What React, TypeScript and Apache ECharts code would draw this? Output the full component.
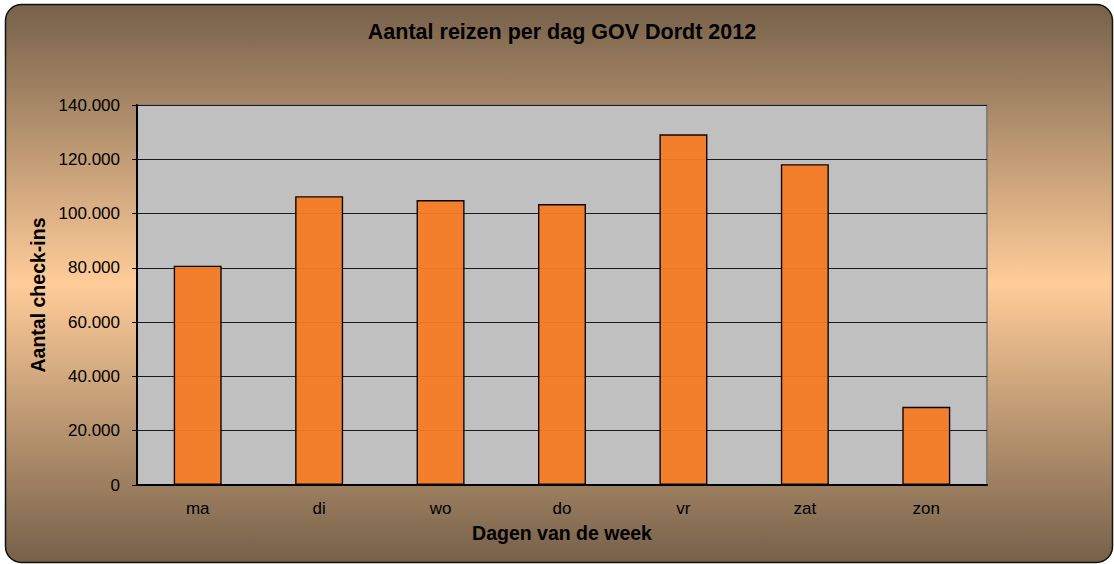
import React, { useEffect, useRef } from "react";
import * as echarts from "echarts";

const days = ["ma", "di", "wo", "do", "vr", "zat", "zon"];
const checkIns = [80800, 106400, 105000, 103500, 129200, 118200, 28800];
const yTicks = { min: 0, max: 140000, step: 20000 };
const titleText = "Aantal reizen per dag GOV Dordt 2012";
const yName = "Aantal check-ins";
const xName = "Dagen van de week";

const fmt = (v: number) => {
  if (v === 0) return "0";
  const s = String(Math.round(v));
  return s.replace(/\B(?=(\d{3})+(?!\d))/g, ".");
};

export default function App() {
  const ref = useRef<HTMLDivElement>(null);
  useEffect(() => {
    document.body.style.margin = "0";
    const chart = echarts.init(ref.current!, null, { renderer: "svg" });
    const font = "'Liberation Sans', Arial, sans-serif";
    chart.setOption({
      animation: false,
      backgroundColor: "#ffffff",
      textStyle: { fontFamily: font },
      graphic: [
        {
          type: "rect",
          z: -10,
          silent: true,
          shape: { x: 5.5, y: 4.5, width: 1107, height: 558, r: 16 },
          style: {
            fill: new echarts.graphic.LinearGradient(0, 0, 0, 1, [
              { offset: 0, color: "#76614A" },
              { offset: 0.5, color: "#FFCC99" },
              { offset: 1, color: "#76614A" },
            ]),
            stroke: "#111111",
            lineWidth: 1.5,
          },
        },
        {
          type: "text",
          x: 562,
          y: 32,
          style: {
            text: titleText,
            fontFamily: font,
            fontSize: 21.5,
            fontWeight: "bold",
            fill: "#000000",
            align: "center",
            verticalAlign: "middle",
          },
        },
      ],
      grid: {
        left: 137,
        top: 105,
        width: 850,
        height: 380,
        show: true,
        backgroundColor: "#C0C0C0",
        borderColor: "#808080",
        borderWidth: 2,
      },
      xAxis: {
        type: "category",
        data: days,
        axisTick: { show: false },
        axisLine: { show: true, lineStyle: { color: "#000000", width: 2 } },
        axisLabel: { color: "#000000", fontSize: 17, margin: 15, fontFamily: font },
        name: xName,
        nameLocation: "middle",
        nameGap: 38,
        nameTextStyle: { fontSize: 19.5, fontWeight: "bold", color: "#000000", fontFamily: font },
      },
      yAxis: {
        type: "value",
        min: yTicks.min,
        max: yTicks.max,
        interval: yTicks.step,
        axisLine: { show: true, lineStyle: { color: "#000000", width: 2 } },
        axisTick: { show: true, inside: false, length: 5, lineStyle: { color: "#000000", width: 1 } },
        axisLabel: { color: "#000000", fontSize: 17, margin: 17, formatter: fmt, fontFamily: font },
        splitLine: { show: true, lineStyle: { color: "#1a1a1a", width: 1 } },
        name: yName,
        nameLocation: "middle",
        nameGap: 86,
        nameTextStyle: { fontSize: 19.5, fontWeight: "bold", color: "#000000", fontFamily: font },
      },
      series: [
        {
          type: "bar",
          data: checkIns,
          barWidth: 48,
          itemStyle: { color: "#F57A24", borderColor: "#000000", borderWidth: 1.4, opacity: 0.95 },
        },
      ],
    });
    return () => chart.dispose();
  }, []);
  return <div ref={ref} style={{ width: 1114, height: 564 }} />;
}
